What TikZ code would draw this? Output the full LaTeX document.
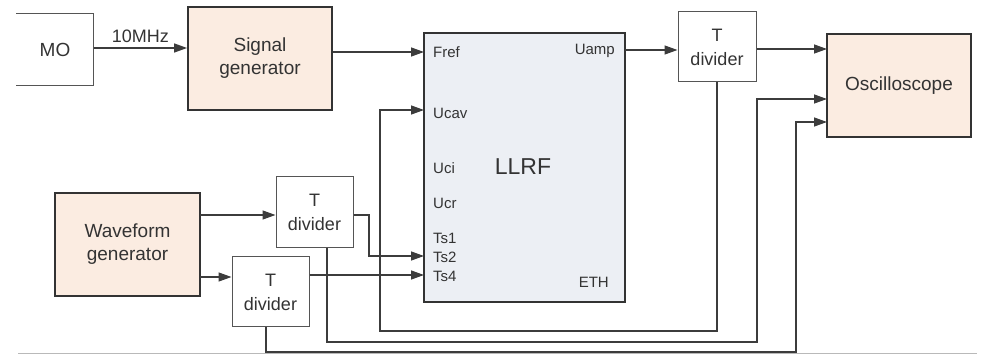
\documentclass[tikz,border=0pt]{standalone}
\usepackage{fontspec}
\setmainfont{Liberation Sans}
\usetikzlibrary{arrows.meta}
\definecolor{peach}{HTML}{FBECE1}
\definecolor{llrfbg}{HTML}{ECEFF4}
\definecolor{ink}{HTML}{333333}
\definecolor{wire}{HTML}{3C3C3C}
\definecolor{thin}{HTML}{555555}
\begin{document}
\begin{tikzpicture}[x=1pt,y=-1pt,
  font=\fontsize{19}{23}\selectfont, text=ink,
  box/.style={draw=ink, line width=1.8pt, fill=peach, align=center, inner sep=0pt,
    font=\fontsize{19}{23}\selectfont},
  tdiv/.style={draw=thin, line width=1pt, fill=white, align=center, inner sep=0pt,
    font=\fontsize{18}{24}\selectfont},
  arr/.style={draw=wire, line width=1.3pt, -{Triangle[length=13pt,width=9pt]}},
  port/.style={font=\fontsize{15}{17}\selectfont, inner sep=0pt}]
\useasboundingbox (0,0) rectangle (983,355);

% blocks
\node[inner sep=0pt, minimum width=77pt, minimum height=71pt] (MO) at (55,49.5) {MO};
\draw[draw=thin, line width=1pt] (MO.north west) -- (MO.north east) -- (MO.south east) -- (MO.south west);
\node[box, minimum width=144pt, minimum height=103pt] (SG) at (260,58.5) {Signal\\generator};
\node[box, minimum width=145pt, minimum height=103pt] (WG) at (127.5,244.5) {Waveform\\generator};
\node[draw=ink, line width=1.8pt, fill=llrfbg, minimum width=201pt, minimum height=269pt, inner sep=0pt] (LLRF) at (524.5,167.5) {};
\node[font=\fontsize{23}{26}\selectfont] (LLRFlbl) at (523,167) {LLRF};
\node[tdiv, minimum width=78pt, minimum height=70pt] (TD1) at (717,47) {T\\divider};
\node[tdiv, minimum width=77pt, minimum height=71pt] (TD2) at (314.5,212.5) {T\\divider};
\node[tdiv, minimum width=77pt, minimum height=70pt] (TD3) at (270.5,292) {T\\divider};
\node[box, minimum width=144pt, minimum height=103pt] (OSC) at (899,85.5) {Oscilloscope};

% port labels
\node[port, anchor=west] (lFref) at (433,52) {Fref};
\node[port, anchor=west] (lUcav) at (433,113) {Ucav};
\node[port, anchor=west] (lUci) at (433,168) {Uci};
\node[port, anchor=west] (lUcr) at (433,203) {Ucr};
\node[port, anchor=west] (lTs1) at (433,238) {Ts1};
\node[port, anchor=west] (lTs2) at (433,257) {Ts2};
\node[port, anchor=west] (lTs4) at (433,276) {Ts4};
\node[port, anchor=east] (lUamp) at (615,51) {Uamp};
\node[port, anchor=east] (lETH) at (609,282) {ETH};

% port coordinates
\coordinate (pFref) at (424,52);
\coordinate (pUcav) at (424,110);
\coordinate (pTs2) at (424,256);
\coordinate (pTs4) at (424,275);
\coordinate (pUamp) at (625,50);
\coordinate (o1) at (827,49);
\coordinate (o2) at (827,99);
\coordinate (o3) at (827,122);
\coordinate (w1) at (200,215);
\coordinate (w2) at (200,277);
\coordinate (c1) at (380,331);
\coordinate (c2) at (327,342);
\coordinate (k2) at (757,342);
\coordinate (c3) at (266,352);
\coordinate (k3) at (796,352);
\coordinate (j1) at (369,256);

% connectors
\draw[arr] (MO.east |- 0,48) -- (SG.west |- 0,48) node[midway, above=1pt, font=\fontsize{18}{20}\selectfont] (lMHz) {10MHz};
\draw[arr] (SG.east |- pFref) -- (pFref);
\draw[arr] (pUamp) -- (pUamp -| TD1.west);
\draw[arr] (TD1.east |- o1) -- (o1);
\draw[arr] (TD1.south) |- (c1) |- (pUcav);
\draw[arr] (w1) -- (w1 -| TD2.west);
\draw[arr] (w2) -- (w2 -| TD3.west);
\draw[arr] (TD2.east |- w1) -| (j1) -- (pTs2);
\draw[arr] (TD3.east |- pTs4) -- (pTs4);
\draw[arr] (c2 |- TD2.south) |- (k2) |- (o2);
\draw[arr] (c3 |- TD3.south) |- (k3) |- (o3);

% bottom rule
\coordinate (r1) at (18,353.8);
\coordinate (r2) at (977,353.8);
\draw[gray!55, line width=1.2pt] (r1) -- (r2);
\end{tikzpicture}
\end{document}
